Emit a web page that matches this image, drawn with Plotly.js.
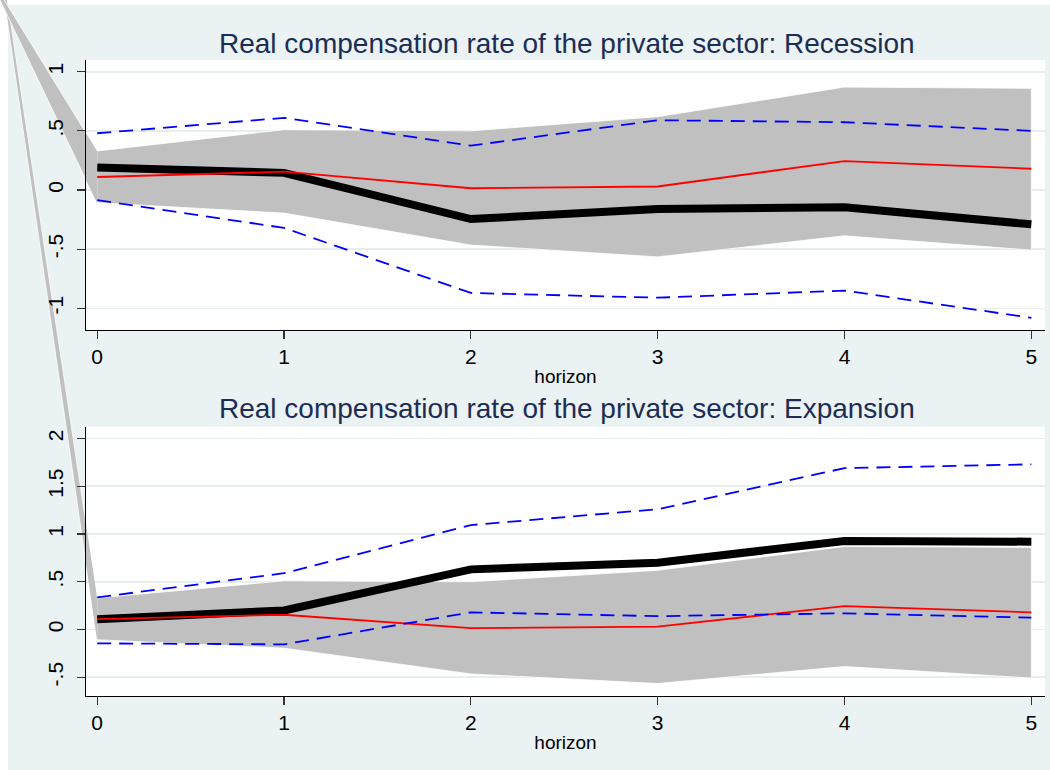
<!DOCTYPE html>
<html>
<head>
<meta charset="utf-8">
<script src="https://cdn.plot.ly/plotly-3.0.1.min.js"></script>
<style>html,body{margin:0;padding:0;background:#fff;}#chart{width:1050px;height:770px;}</style>
</head>
<body>
<div id="chart"></div>
<script>
// ---- data ----
const horizon = [0, 1, 2, 3, 4, 5];
const linIRF   = [0.11, 0.155, 0.015, 0.03, 0.245, 0.18];     // red line (linear model)
const linUpper = [0.33, 0.51, 0.50, 0.62, 0.87, 0.86];        // grey band upper
const linLower = [-0.107, -0.195, -0.465, -0.565, -0.387, -0.508]; // grey band lower
const recIRF   = [0.19, 0.145, -0.245, -0.16, -0.145, -0.29];
const recUpper = [0.48, 0.61, 0.375, 0.59, 0.573, 0.50];
const recLower = [-0.085, -0.32, -0.87, -0.91, -0.85, -1.08];
const expIRF   = [0.107, 0.20, 0.63, 0.70, 0.927, 0.92];
const expUpper = [0.337, 0.59, 1.094, 1.26, 1.69, 1.73];
const expLower = [-0.145, -0.155, 0.18, 0.14, 0.17, 0.124];
const titles = ["Real compensation rate of the private sector: Recession",
                "Real compensation rate of the private sector: Expansion"];
const xTickVals = [0, 1, 2, 3, 4, 5];
const xTickText = ["0", "1", "2", "3", "4", "5"];
const y1TickVals = [-1, -0.5, 0, 0.5, 1];
const y1TickText = ["-1", "-.5", "0", ".5", "1"];
const y2TickVals = [-0.5, 0, 0.5, 1, 1.5, 2];
const y2TickText = ["-.5", "0", ".5", "1", "1.5", "2"];

// ---- styling ----
const FONT = "Liberation Sans, Arial, sans-serif";
const BG = "#EAF2F3";
const GRAY = "#C0C0C0";
const W = 1050, H = 770, ML = 86, MR = 5, MT = 60, MB = 74;
const PW = W - ML - MR, PH = H - MT - MB;
const px = (x) => (x - ML) / PW;
const py = (y) => (H - MB - y) / PH;
function path(pts) {
  return "M" + pts.map(p => px(p[0]).toFixed(4) + "," + py(p[1]).toFixed(4)).join(" L") + " Z";
}
// y on segment p-q at horizontal position x
const atX = (p, q, x) => [x, p[1] + (q[1] - p[1]) * (x - p[0]) / (q[0] - p[0])];
// export artifact wedge, split at the plot's left edge (outside part under the tick labels)
function wedge(a1, b1, b2, a2) {
  const c1 = atX(a1, b1, ML), c2 = atX(a2, b2, ML);
  return [
    {type: "path", xref: "paper", yref: "paper", layer: "below",
     path: path([a1, c1, c2, a2]), fillcolor: GRAY, line: {color: "#ffffff", width: 0.8}},
    {type: "path", xref: "paper", yref: "paper", layer: "above",
     path: path([c1, b1, b2, c2]), fillcolor: GRAY, line: {width: 0}}
  ];
}

function panel(xa, ya, irf, up, lo) {
  const bx = horizon.concat(horizon.slice().reverse());
  const by = linUpper.concat(linLower.slice().reverse());
  return [
    {x: bx, y: by, xaxis: xa, yaxis: ya, type: "scatter", mode: "lines", fill: "toself",
     fillcolor: GRAY, line: {color: "#ffffff", width: 0.8}, hoverinfo: "skip"},
    {x: horizon, y: irf, xaxis: xa, yaxis: ya, type: "scatter", mode: "lines",
     line: {color: "#000000", width: 8}},
    {x: horizon, y: linIRF, xaxis: xa, yaxis: ya, type: "scatter", mode: "lines",
     line: {color: "#FF0000", width: 1.8}},
    {x: horizon, y: lo, xaxis: xa, yaxis: ya, type: "scatter", mode: "lines",
     line: {color: "#0000FF", width: 1.8, dash: "14px,8px"}},
    {x: horizon, y: up, xaxis: xa, yaxis: ya, type: "scatter", mode: "lines",
     line: {color: "#0000FF", width: 1.8, dash: "14px,8px"}}
  ];
}

const data = panel("x", "y", recIRF, recUpper, recLower)
  .concat(panel("x2", "y2", expIRF, expUpper, expLower));

const xAxisBase = {
  range: [-0.06, 5.073], tickvals: xTickVals, ticktext: xTickText,
  showgrid: false, zeroline: false, showline: true, linecolor: "#000", linewidth: 1.2,
  ticks: "outside", ticklen: 8, tickwidth: 1.2, tickcolor: "#333",
  tickfont: {family: FONT, size: 21, color: "#000"},
  title: {text: "horizon", font: {family: FONT, size: 19, color: "#000"}, standoff: 2}
};
const yAxisBase = {
  showgrid: true, gridcolor: "#E6EEF0", gridwidth: 1.6, zeroline: false,
  showline: true, linecolor: "#000", linewidth: 1.2,
  ticks: "outside", ticklen: 8, tickwidth: 1.2, tickcolor: "#333", tickangle: -90,
  ticklabelstandoff: 5,
  tickfont: {family: FONT, size: 21, color: "#000"}
};

const layout = {
  width: W, height: H,
  margin: {l: ML, r: MR, t: MT, b: MB},
  paper_bgcolor: BG, plot_bgcolor: "#ffffff",
  showlegend: false,
  xaxis: Object.assign({}, xAxisBase, {domain: [0, 1], anchor: "y"}),
  yaxis: Object.assign({}, yAxisBase, {domain: [py(330), 1], anchor: "x",
          range: [-1.183, 1.099], tickvals: y1TickVals, ticktext: y1TickText}),
  xaxis2: Object.assign({}, xAxisBase, {domain: [0, 1], anchor: "y2"}),
  yaxis2: Object.assign({}, yAxisBase, {domain: [0, py(426.7)], anchor: "x2",
          range: [-0.696, 2.124], tickvals: y2TickVals, ticktext: y2TickText}),
  annotations: [
    {text: titles[0], xref: "paper", yref: "paper", x: px(567), y: py(43),
     xanchor: "center", yanchor: "middle", showarrow: false,
     font: {family: FONT, size: 28, color: "#1C2D55"}},
    {text: titles[1], xref: "paper", yref: "paper", x: px(567), y: py(408),
     xanchor: "center", yanchor: "middle", showarrow: false,
     font: {family: FONT, size: 28, color: "#1C2D55"}}
  ],
  shapes: [
    // white outer edge strips of the exported graph
    {type: "rect", xref: "paper", yref: "paper", x0: px(0), x1: px(8), y0: py(770), y1: py(0),
     fillcolor: "#ffffff", line: {width: 0}, layer: "below"},
    {type: "rect", xref: "paper", yref: "paper", x0: px(0), x1: px(1050), y0: py(5), y1: py(0),
     fillcolor: "#ffffff", line: {width: 0}, layer: "below"}
  ].concat(wedge([7, -2], [97, 597], [97, 640], [4, -2]))
   .concat(wedge([3, -2], [97, 151], [97, 203], [-1, -2]))
};

Plotly.newPlot("chart", data, layout, {displayModeBar: false, staticPlot: true});
</script>
</body>
</html>
